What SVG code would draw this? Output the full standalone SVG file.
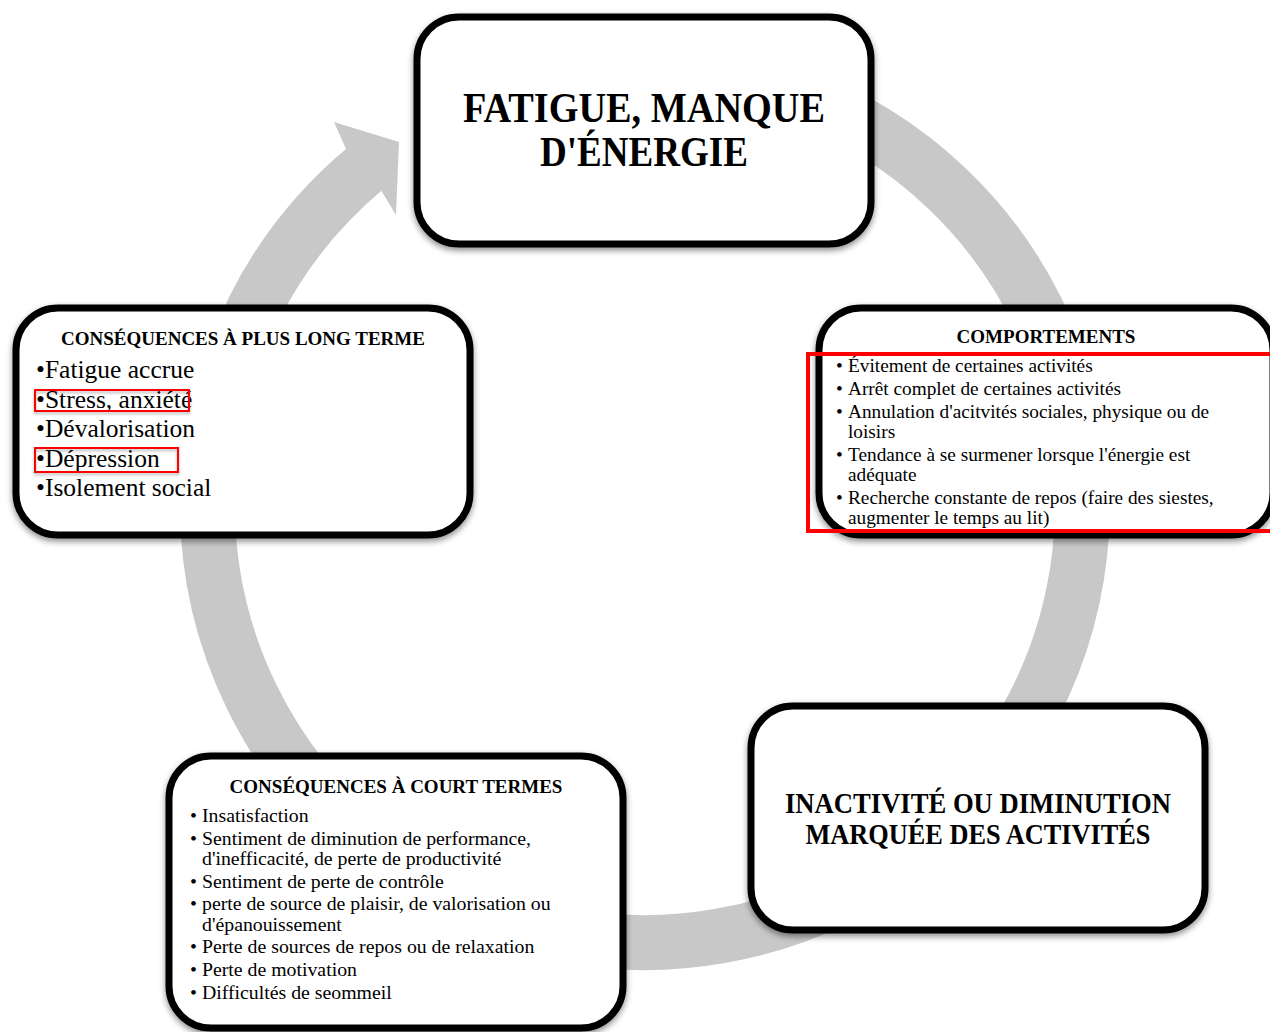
<svg xmlns="http://www.w3.org/2000/svg" width="1270" height="1032" viewBox="0 0 1270 1032">
  <defs>
    <filter id="sh" x="-10%" y="-10%" width="120%" height="125%">
      <feDropShadow dx="0" dy="3" stdDeviation="3" flood-color="#000" flood-opacity="0.45"/>
    </filter>
    <filter id="shr" x="-10%" y="-20%" width="120%" height="150%">
      <feDropShadow dx="0" dy="2" stdDeviation="1.5" flood-color="#000" flood-opacity="0.3"/>
    </filter>
    <style>
      .box { fill: #ffffff; stroke: #000000; stroke-width: 7; }
      .big { font-family: "Liberation Serif", serif; font-weight: bold; fill: #000; text-anchor: middle; }
      .ttl { font-family: "Liberation Serif", serif; font-weight: bold; font-size: 19px; fill: #000; text-anchor: middle; }
      .li { font-family: "Liberation Serif", serif; fill: #000; }
      .hl { fill: none; stroke: #ff0000; }
    </style>
  </defs>
  <rect width="1270" height="1032" fill="#ffffff"/>

  <g id="connectors">
    <path d="M 794.6 93.9 A 437.5 437.5 0 1 1 366.7 167.4" fill="none" stroke="#c8c8c8" stroke-width="55"/>
    <polygon points="346,149 334,122 399,142 396,215 381.5,191" fill="#c8c8c8"/>
  </g>

  <g id="node-fatigue">
    <rect class="box" x="417" y="17" width="454" height="227" rx="42" filter="url(#sh)"/>
    <text class="big" x="644" y="122" font-size="43" textLength="362" lengthAdjust="spacingAndGlyphs">FATIGUE, MANQUE</text>
    <text class="big" x="644" y="166" font-size="43" textLength="208" lengthAdjust="spacingAndGlyphs">D'ÉNERGIE</text>
  </g>

  <g id="node-long-terme">
    <rect class="box" x="16" y="308" width="454" height="227" rx="42" filter="url(#sh)"/>
    <text class="ttl" x="243" y="345">CONSÉQUENCES À PLUS LONG TERME</text>
    <g class="li" font-size="25.5">
      <text x="36" y="378">•Fatigue accrue</text>
      <text x="36" y="408">•Stress, anxiété</text>
      <text x="36" y="437">•Dévalorisation</text>
      <text x="36" y="467">•Dépression</text>
      <text x="36" y="496">•Isolement social</text>
    </g>
    <rect class="hl" x="35" y="390" width="154" height="21" stroke-width="2" filter="url(#shr)"/>
    <rect class="hl" x="35" y="448" width="143" height="24" stroke-width="2" filter="url(#shr)"/>
  </g>

  <g id="node-comportements">
    <rect class="box" x="819" y="308" width="454" height="227" rx="42" filter="url(#sh)"/>
    <text class="ttl" x="1046" y="343">COMPORTEMENTS</text>
    <g class="li" font-size="19.3">
      <text x="836" y="372">•</text><text x="848" y="372">Évitement de certaines activités</text>
      <text x="836" y="395">•</text><text x="848" y="395">Arrêt complet de certaines activités</text>
      <text x="836" y="418">•</text><text x="848" y="418">Annulation d'acitvités sociales, physique ou de</text>
      <text x="848" y="438">loisirs</text>
      <text x="836" y="461">•</text><text x="848" y="461">Tendance à se surmener lorsque l'énergie est</text>
      <text x="848" y="481">adéquate</text>
      <text x="836" y="504">•</text><text x="848" y="504">Recherche constante de repos (faire des siestes,</text>
      <text x="848" y="524">augmenter le temps au lit)</text>
    </g>
    <rect class="hl" x="808" y="354" width="470" height="177" stroke-width="4"/>
  </g>

  <g id="node-court-terme">
    <rect class="box" x="169" y="756" width="454" height="272" rx="42" filter="url(#sh)"/>
    <text class="ttl" x="396" y="793">CONSÉQUENCES À COURT TERMES</text>
    <g class="li" font-size="19.8">
      <text x="190" y="822">•</text><text x="202" y="822">Insatisfaction</text>
      <text x="190" y="845">•</text><text x="202" y="845">Sentiment de diminution de performance,</text>
      <text x="202" y="865">d'inefficacité, de perte de productivité</text>
      <text x="190" y="888">•</text><text x="202" y="888">Sentiment de perte de contrôle</text>
      <text x="190" y="910">•</text><text x="202" y="910">perte de source de plaisir, de valorisation ou</text>
      <text x="202" y="931">d'épanouissement</text>
      <text x="190" y="953">•</text><text x="202" y="953">Perte de sources de repos ou de relaxation</text>
      <text x="190" y="976">•</text><text x="202" y="976">Perte de motivation</text>
      <text x="190" y="999">•</text><text x="202" y="999">Difficultés de seommeil</text>
    </g>
  </g>

  <g id="node-inactivite">
    <rect class="box" x="751" y="706" width="454" height="224" rx="42" filter="url(#sh)"/>
    <text class="big" x="978" y="813" font-size="30" textLength="386" lengthAdjust="spacingAndGlyphs">INACTIVITÉ OU DIMINUTION</text>
    <text class="big" x="978" y="844" font-size="30" textLength="345" lengthAdjust="spacingAndGlyphs">MARQUÉE DES ACTIVITÉS</text>
  </g>
</svg>
